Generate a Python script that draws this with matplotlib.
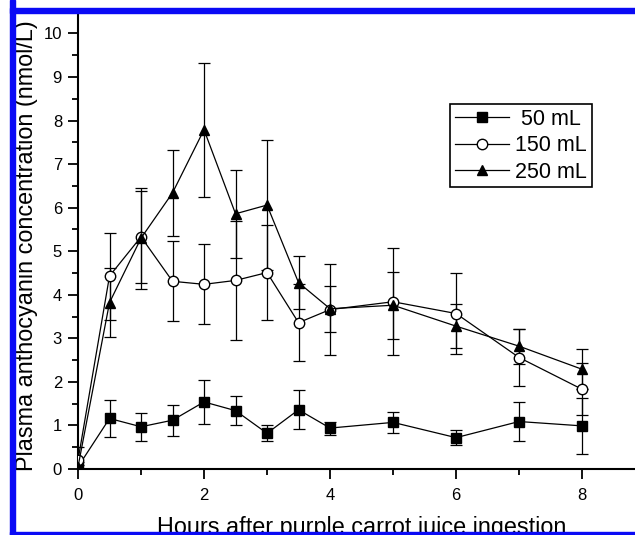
import matplotlib
matplotlib.use('Agg')
import matplotlib.pyplot as plt
from matplotlib.patches import Rectangle
from matplotlib.ticker import MultipleLocator

# sampling times (h)
hours = [0, 0.5, 1, 1.5, 2, 2.5, 3, 3.5, 4, 5, 6, 7, 8]

# plasma anthocyanin, mean and error bar (nmol/L)
conc_50 = [0.05, 1.16, 0.97, 1.12, 1.54, 1.34, 0.82, 1.36, 0.94, 1.07, 0.72, 1.09, 0.99]
err_50 = [0.05, 0.42, 0.32, 0.36, 0.51, 0.33, 0.18, 0.45, 0.15, 0.25, 0.18, 0.45, 0.65]

conc_150 = [0.2, 4.43, 5.33, 4.31, 4.24, 4.33, 4.51, 3.36, 3.66, 3.84, 3.57, 2.56, 1.83]
err_150 = [0.3, 1.0, 1.06, 0.92, 0.92, 1.37, 1.1, 0.88, 1.05, 1.23, 0.92, 0.65, 0.6]

conc_250 = [0.05, 3.82, 5.3, 6.34, 7.79, 5.86, 6.06, 4.28, 3.68, 3.76, 3.28, 2.82, 2.29]
err_250 = [0.1, 0.8, 1.16, 0.98, 1.54, 1.01, 1.5, 0.6, 0.53, 0.77, 0.5, 0.4, 0.46]

labels = [' 50 mL', '150 mL', '250 mL']

plt.rcParams['font.family'] = ['Liberation Sans', 'DejaVu Sans']


def draw_series(ax, y, err, marker, face, label):
    ax.errorbar(hours, y, yerr=err, fmt='none', ecolor='black',
                elinewidth=0.9, capsize=4, capthick=0.9, zorder=2)
    ax.plot(hours, y, color='black', lw=0.9, marker=marker, ms=7.5,
            mfc=face, mec='black', mew=1.0, label=label, zorder=3)


def main():
    fig = plt.figure(figsize=(6.35, 5.35), dpi=100)
    ax = fig.add_axes([78 / 635, 1 - 469 / 535, 557 / 635, 456 / 535])

    draw_series(ax, conc_50, err_50, 's', 'black', labels[0])
    draw_series(ax, conc_150, err_150, 'o', 'white', labels[1])
    draw_series(ax, conc_250, err_250, '^', 'black', labels[2])

    ax.set_xlim(0, 8.84)
    ax.set_ylim(0, 10.47)
    ax.xaxis.set_major_locator(MultipleLocator(2))
    ax.xaxis.set_minor_locator(MultipleLocator(1))
    ax.yaxis.set_major_locator(MultipleLocator(1))
    ax.yaxis.set_minor_locator(MultipleLocator(0.5))

    for side in ['top', 'right']:
        ax.spines[side].set_visible(False)
    for side in ['left', 'bottom']:
        ax.spines[side].set_linewidth(1.5)

    ax.tick_params(which='major', direction='out', length=7.5, width=1.3,
                   labelsize=12, pad=4)
    ax.tick_params(which='minor', direction='out', length=4, width=1.3)
    ax.tick_params(axis='x', which='major', pad=6)

    ax.set_ylabel('Plasma anthocyanin concentration (nmol/L)', fontsize=16.8)
    ax.set_xlabel('Hours after purple carrot juice ingestion', fontsize=16.8)
    ax.yaxis.set_label_coords(-0.072, 0.49)
    ax.xaxis.set_label_coords(0.509, -0.102)
    ax.xaxis.label.set_va('top')

    leg = ax.legend(loc='upper left', bbox_to_anchor=(0.668, 0.800),
                    borderaxespad=0, fontsize=15.5, fancybox=False,
                    edgecolor='black', framealpha=1, handlelength=2.5,
                    handletextpad=0.3, labelspacing=0.25, borderpad=0.22)
    leg.get_frame().set_linewidth(1.2)

    # blue frame of the scanned figure
    blue = '#0a0af5'
    fig.add_artist(Rectangle((10 / 635, 0), 5 / 635, 1, transform=fig.transFigure,
                             color=blue, zorder=10))
    fig.add_artist(Rectangle((10 / 635, 1 - 13 / 535), 1, 5 / 535,
                             transform=fig.transFigure, color=blue, zorder=10))
    fig.add_artist(Rectangle((10 / 635, 0), 1, 3.5 / 535, transform=fig.transFigure,
                             color=blue, zorder=10))

    fig.savefig('out.png', dpi=100)


if __name__ == '__main__':
    main()
